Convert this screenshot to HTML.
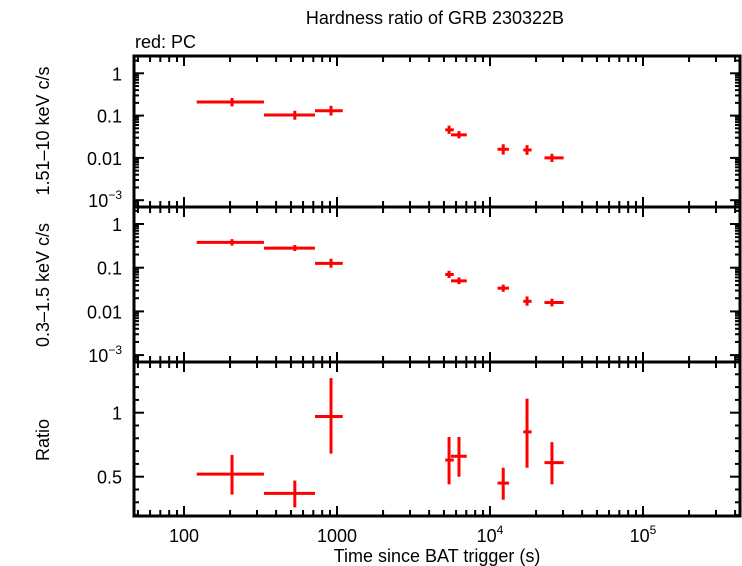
<!DOCTYPE html>
<html><head><meta charset="utf-8"><style>
body{margin:0;background:#fff}
svg{display:block;font-family:"Liberation Sans",sans-serif}
</style></head><body>
<svg id="c" width="742" height="566" viewBox="0 0 742 566"></svg>
<script>
const times=[206,530,914,5400,6270,12200,17460,25400];
const tLo=[121,333,718,5100,5560,11200,16500,22700];
const tHi=[333,718,1090,5800,7050,13300,18700,30300];
const hard=[0.21,0.103,0.13,0.046,0.035,0.016,0.0154,0.0100];
const hardLo=[0.165,0.08,0.10,0.037,0.029,0.012,0.0118,0.0080];
const hardHi=[0.26,0.13,0.17,0.058,0.043,0.021,0.020,0.0125];
const soft=[0.38,0.28,0.126,0.07,0.05,0.034,0.017,0.016];
const softLo=[0.32,0.24,0.10,0.058,0.042,0.028,0.0135,0.0130];
const softHi=[0.45,0.33,0.16,0.085,0.06,0.041,0.022,0.0195];
const ratio=[0.52,0.37,0.97,0.63,0.66,0.45,0.85,0.61];
const ratioLo=[0.36,0.26,0.68,0.44,0.50,0.32,0.57,0.44];
const ratioHi=[0.67,0.47,1.27,0.81,0.81,0.57,1.11,0.77];
const xTickLabels=["100","1000","10^4","10^5"];
const logTickLabels=["1","0.1","0.01","10^-3"];
const ratioTicks=[0.5,1];

const svg=document.getElementById('c');const NS='http://www.w3.org/2000/svg';
function el(tag,attrs,parent){const e=document.createElementNS(NS,tag);for(const k in attrs)e.setAttribute(k,attrs[k]);(parent||svg).appendChild(e);return e;}
const L=134,R=740,FS=18;
const X=t=>184+153*(Math.log10(t)-2);
const panels=[
 {top:56,bot:207,Y:v=>73.3-42.3*Math.log10(v),log:true,v:hard,lo:hardLo,hi:hardHi,name:'hard-panel'},
 {top:207,bot:362,Y:v=>224-43.7*Math.log10(v),log:true,v:soft,lo:softLo,hi:softHi,name:'soft-panel'},
 {top:362,bot:516,Y:v=>412.7-128*(v-1),log:false,v:ratio,lo:ratioLo,hi:ratioHi,name:'ratio-panel'}
];
function lbl(x,y,s,anchor,parent){
  const t=el('text',{x:x,y:y,'font-size':FS,'text-anchor':anchor},parent);
  if(s.indexOf('^')>=0){const p=s.split('^');t.appendChild(document.createTextNode(p[0]));const sp=el('tspan',{dy:-8,'font-size':12},t);sp.textContent=p[1].replace('-','\u2212');}
  else t.textContent=s;
  return t;
}
panels.forEach((p,pi)=>{
  const g=el('g',{});
  
  
  for(let d=1;d<=5;d++){for(let m=1;m<10;m++){const t=m*Math.pow(10,d);const x=X(t);if(x<L||x>R)continue;const len=m==1?10:6;
    el('line',{x1:x,x2:x,y1:p.bot,y2:p.bot-len,stroke:'#000','stroke-width':2},g);
    el('line',{x1:x,x2:x,y1:p.top,y2:p.top+len,stroke:'#000','stroke-width':2},g);}}
  if(p.log){
    for(let d=-4;d<=1;d++){for(let m=1;m<10;m++){const v=m*Math.pow(10,d);const y=p.Y(v);if(y<p.top||y>p.bot)continue;const len=m==1?10:5;
      el('line',{x1:L,x2:L+len,y1:y,y2:y,stroke:'#000','stroke-width':2},g);
      el('line',{x1:R,x2:R-len,y1:y,y2:y,stroke:'#000','stroke-width':2},g);}}
    logTickLabels.forEach((s,i)=>{const y=p.Y(Math.pow(10,-i));const t=lbl(122,y+7,s,'end',g);});
  } else {
    for(let k=2;k<=13;k++){const v=k/10;const y=p.Y(v);if(y<p.top||y>p.bot)continue;const len=(k==5||k==10)?10:5;
      el('line',{x1:L,x2:L+len,y1:y,y2:y,stroke:'#000','stroke-width':2},g);
      el('line',{x1:R,x2:R-len,y1:y,y2:y,stroke:'#000','stroke-width':2},g);}
    ratioTicks.forEach(v=>{const t=lbl(122,p.Y(v)+7,String(v),'end',g);});
  }
  el('rect',{x:L,y:p.top,width:R-L,height:p.bot-p.top,fill:'none',stroke:'#000','stroke-width':3},g);
  p.v.forEach((v,i)=>{
    const m=el('g',{stroke:'#f00','stroke-width':3},g);
    
    
    el('line',{x1:X(tLo[i]),x2:X(tHi[i]),y1:p.Y(v),y2:p.Y(v)},m);
    el('line',{x1:X(times[i]),x2:X(times[i]),y1:p.Y(p.lo[i]),y2:p.Y(p.hi[i])},m);
  });
});
xTickLabels.forEach((s,i)=>{const t=lbl(X(Math.pow(10,i+2)),542,s,'middle');});
let t;
t=el('text',{x:435,y:24,'font-size':FS,'text-anchor':'middle'});t.textContent='Hardness ratio of GRB 230322B';

t=el('text',{x:135,y:48,'font-size':FS});t.textContent='red: PC';

t=el('text',{x:437,y:562,'font-size':FS,'text-anchor':'middle'});t.textContent='Time since BAT trigger (s)';

t=el('text',{x:0,y:0,'font-size':FS,'text-anchor':'middle',transform:'translate(49,131) rotate(-90)'});t.textContent='1.51\u201310 keV c/s';

t=el('text',{x:0,y:0,'font-size':FS,'text-anchor':'middle',transform:'translate(49,285) rotate(-90)'});t.textContent='0.3\u20131.5 keV c/s';

t=el('text',{x:0,y:0,'font-size':FS,'text-anchor':'middle',transform:'translate(49,440) rotate(-90)'});t.textContent='Ratio';

</script>
</body></html>
